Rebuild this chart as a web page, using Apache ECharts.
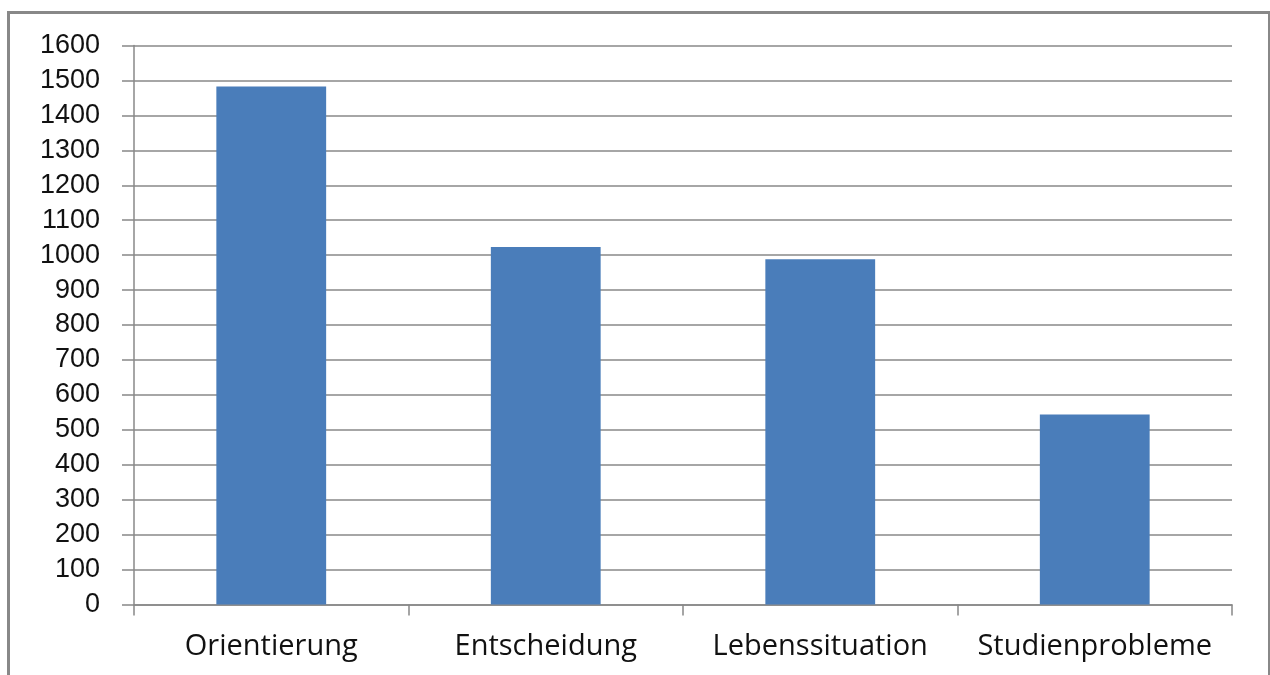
<!DOCTYPE html>
<html>
<head>
<meta charset="utf-8">
<script src="https://cdn.jsdelivr.net/npm/echarts@6/dist/echarts.min.js"></script>
<style>html,body{margin:0;padding:0;background:#fff}#c{width:1270px;height:675px}</style>
</head>
<body>
<div id="c"></div>
<script>
const categories = ['Orientierung', 'Entscheidung', 'Lebenssituation', 'Studienprobleme'];
const values = [1483, 1023, 988, 544];
const yMin = 0, yMax = 1600, yStep = 100;

const chart = echarts.init(document.getElementById('c'), null, {renderer: 'canvas'});
chart.setOption({
  animation: false,
  backgroundColor: '#fff',
  graphic: [{
    type: 'rect', left: 6, top: 10,
    shape: {x: 0, y: 0, width: 1261, height: 700},
    style: {fill: 'none', stroke: '#888', lineWidth: 3},
    z: 100
  }],
  grid: {left: 134, right: 38, top: 45.5, bottom: 70.5, containLabel: false},
  xAxis: {
    type: 'category',
    data: categories,
    axisLine: {show: true, lineStyle: {color: '#888', width: 1.5}},
    axisTick: {show: true, interval: 0, length: 11, alignWithLabel: false, lineStyle: {color: '#888', width: 1.5}},
    axisLabel: {interval: 0, hideOverlap: false, color: '#111', fontSize: 29, fontFamily: 'Open Sans', margin: 28}
  },
  yAxis: {
    type: 'value', min: yMin, max: yMax, interval: yStep,
    axisLine: {show: true, lineStyle: {color: '#888', width: 1.5}},
    axisTick: {show: true, length: 12, lineStyle: {color: '#888', width: 1.5}},
    splitLine: {show: true, lineStyle: {color: '#888', width: 1.5}},
    axisLabel: {color: '#111', fontSize: 27, fontFamily: 'Liberation Sans', margin: 34,
      formatter: v => String(v)}
  },
  series: [{
    type: 'bar',
    data: values,
    barWidth: '40%',
    itemStyle: {color: '#4a7dba'}
  }]
});
</script>
</body>
</html>
